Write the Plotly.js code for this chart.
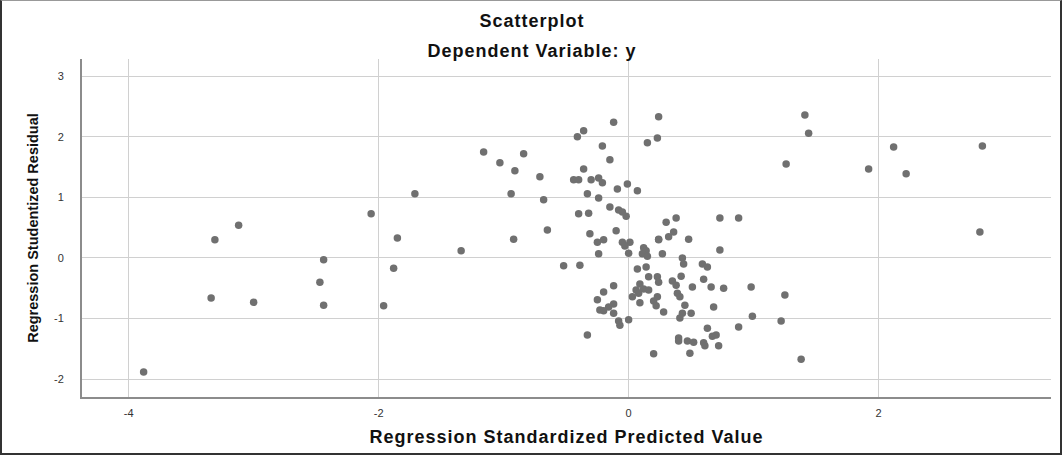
<!DOCTYPE html>
<html>
<head>
<meta charset="utf-8">
<script src="https://cdn.plot.ly/plotly-3.0.1.min.js"></script>
<style>
  html, body { margin: 0; padding: 0; background: #fff; }
  #wrap { position: relative; width: 1064px; height: 456px; }
  #chart { width: 1064px; height: 456px; }
  #frame { position: absolute; left: 0; top: 0; width: 1062px; height: 455px; box-sizing: border-box;
           border: 2px solid #333; border-top: 1px solid #999; pointer-events: none; }
  .js-plotly-plot .gtitle, .js-plotly-plot .xtitle, .js-plotly-plot .annotation-text { letter-spacing: 1px; }
</style>
</head>
<body>
<div id="wrap">
  <div id="chart"></div>
  <div id="frame"></div>
</div>
<script>
// Regression Standardized Predicted Value
const predicted = [
  -3.88, -3.31, -3.12, -3.34, -3.00, -2.44, -2.47, -2.44, -2.06, -1.96, -1.85, -1.88, -1.71, -1.34, -0.92,
  -1.16, -0.84, -1.03, -0.91, -0.71, -0.94, -0.68, -0.65, -0.52, -0.41, -0.44, -0.40, -0.40, -0.39,
  -0.12, -0.36, 0.24, -0.21, 0.15, 0.23, -0.15, -0.36, -0.30, -0.24, -0.21, -0.01, -0.09, 0.07, -0.33, -0.24,
  -0.15, -0.08, -0.05, -0.02, -0.32, -0.31, -0.10, -0.25, -0.20, -0.05, 0.01, -0.03, 0.12, 0.14, 0.24,
  -0.24, 0.00, 0.11, 0.15, 0.07, 0.14, 0.30, 0.38, 0.73, 0.88, 0.36, 0.32, 0.24, 0.48, 0.73, 0.27,
  0.43, 0.44, 0.59, 0.63, 0.42, 0.60, 0.51, 0.66, 0.76, 0.98, 1.25,
  0.16, 0.23, 0.24, 0.35, 0.38, -0.12, -0.20, 0.09, 0.12, 0.16, 0.06, 0.08, -0.25, -0.12, -0.16, -0.20,
  -0.23, -0.12, 0.03, 0.09, 0.20, 0.22, 0.23, 0.28, 0.39, 0.41, 0.45, 0.68, 0.43, 0.41, 0.50, 0.99,
  1.22, 0.88, 0.63, 0.67, 0.70, 0.40, 0.40, 0.47, 0.52, 0.60, 0.61, 0.72, 0.49, 0.20, -0.08, -0.07,
  0.00, -0.33, 1.38,
  1.41, 1.44, 1.26, 2.12, 2.83, 1.92, 2.22, 2.81
];
// Regression Studentized Residual
const residual = [
  -1.88, 0.30, 0.54, -0.66, -0.73, -0.03, -0.40, -0.78, 0.73, -0.79, 0.33, -0.17, 1.06, 0.12, 0.31,
  1.75, 1.72, 1.57, 1.44, 1.34, 1.06, 0.96, 0.46, -0.13, 2.00, 1.29, 1.29, 0.73, -0.12,
  2.24, 2.10, 2.33, 1.85, 1.90, 1.98, 1.62, 1.47, 1.29, 1.32, 1.24, 1.22, 1.14, 1.11, 1.06, 0.99,
  0.84, 0.79, 0.76, 0.69, 0.74, 0.40, 0.45, 0.26, 0.30, 0.26, 0.26, 0.20, 0.17, 0.12, 0.30,
  0.07, 0.08, 0.07, 0.03, -0.18, -0.15, 0.59, 0.66, 0.66, 0.66, 0.43, 0.35, 0.31, 0.31, 0.13, 0.07,
  0.00, -0.10, -0.10, -0.15, -0.30, -0.35, -0.48, -0.48, -0.50, -0.48, -0.61,
  -0.31, -0.31, -0.40, -0.38, -0.45, -0.46, -0.56, -0.43, -0.51, -0.53, -0.53, -0.58, -0.69, -0.76, -0.81, -0.87,
  -0.86, -0.91, -0.64, -0.74, -0.71, -0.79, -0.64, -0.89, -0.58, -0.64, -0.78, -0.81, -0.91, -0.99, -0.91, -0.96,
  -1.04, -1.14, -1.16, -1.29, -1.27, -1.32, -1.37, -1.37, -1.39, -1.40, -1.45, -1.45, -1.57, -1.58, -1.04, -1.11,
  -1.02, -1.27, -1.67,
  2.36, 2.06, 1.55, 1.83, 1.85, 1.47, 1.39, 0.43
];
const xTicks = [-4, -2, 0, 2];
const yTicks = [-2, -1, 0, 1, 2, 3];
const chartTitle = 'Scatterplot';
const subTitle = 'Dependent Variable: y';
const xLabel = 'Regression Standardized Predicted Value';
const yLabel = 'Regression Studentized Residual';

const FONT = 'Liberation Sans, Arial, sans-serif';

const trace = {
  type: 'scatter', mode: 'markers',
  x: predicted, y: residual,
  marker: { color: '#707070', size: 7.5, line: { width: 0 } },
  hoverinfo: 'skip', showlegend: false
};

const layout = {
  width: 1064, height: 456,
  margin: { l: 82, r: 13, t: 59, b: 59 },
  paper_bgcolor: '#fff', plot_bgcolor: '#fff',
  font: { family: FONT, color: '#222' },
  title: {
    text: chartTitle, font: { family: FONT, size: 18, weight: 'bold', color: '#111' },
    xref: 'container', x: 0.5, xanchor: 'center',
    yref: 'container', y: 1 - 21 / 456, yanchor: 'middle'
  },
  annotations: [{
    text: subTitle, showarrow: false,
    font: { family: FONT, size: 18, weight: 'bold', color: '#111' },
    xref: 'paper', x: (532 - 82) / 969, xanchor: 'center',
    yref: 'paper', y: (397 - 51.5) / 338, yanchor: 'middle'
  }],
  xaxis: {
    range: [-4.373, 3.379], tickvals: xTicks, ticktext: xTicks.map(String),
    showgrid: true, gridcolor: '#d0d0d0', gridwidth: 1.3, zeroline: false,
    showline: true, linecolor: '#8c8c8c', linewidth: 1.5,
    ticks: '', ticklabelstandoff: 5,
    tickfont: { family: FONT, size: 11, color: '#333' },
    title: { text: xLabel, standoff: 12, font: { family: FONT, size: 18, weight: 'bold', color: '#111' } },
    automargin: false, fixedrange: true
  },
  yaxis: {
    range: [-2.294, 3.284], tickvals: yTicks, ticktext: yTicks.map(String),
    showgrid: true, gridcolor: '#d0d0d0', gridwidth: 1, zeroline: false,
    showline: true, linecolor: '#8c8c8c', linewidth: 2,
    ticks: '', ticklabelstandoff: 14,
    tickfont: { family: FONT, size: 11, color: '#333' },
    title: { text: yLabel, standoff: 12, font: { family: FONT, size: 14.5, weight: 'bold', color: '#111' } },
    automargin: false, fixedrange: true
  },
  hovermode: false
};

Plotly.newPlot('chart', [trace], layout, { displayModeBar: false, staticPlot: true });
</script>
</body>
</html>
